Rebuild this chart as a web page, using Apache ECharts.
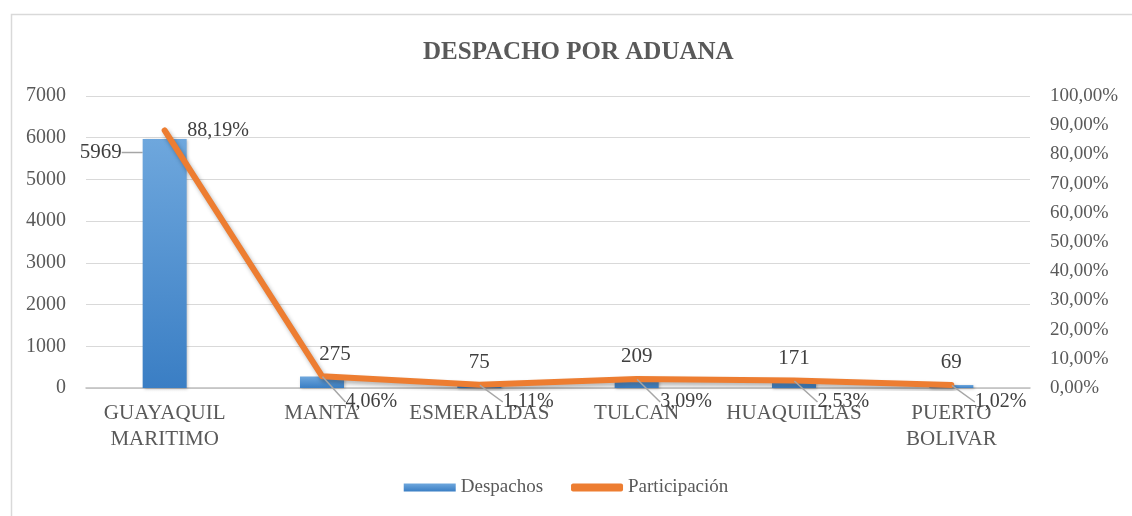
<!DOCTYPE html>
<html style="height: 100%">
<head>
    <meta charset="utf-8">
</head>
<body style="height: 100%; margin: 0; background: #fff">
    <div id="container" style="width: 1132px; height: 516px"></div>
    <script src="https://cdn.jsdelivr.net/npm/echarts@6/dist/echarts.min.js"></script>
    <script type="text/javascript">
        var aduanas = ['GUAYAQUIL\nMARITIMO', 'MANTA', 'ESMERALDAS', 'TULCAN', 'HUAQUILLAS', 'PUERTO\nBOLIVAR'];
        var despachos = [5969, 275, 75, 209, 171, 69];
        var participacion = [88.19, 4.06, 1.11, 3.09, 2.53, 1.02];

        var dom = document.getElementById('container');
        var myChart = echarts.init(dom);
        var fontFam = 'Liberation Serif, Times New Roman, DejaVu Serif, serif';
        var txtColor = '#595959';

        function pct(v) {
            return v.toFixed(2).replace('.', ',') + '%';
        }

        var option = {
            backgroundColor: '#fff',
            textStyle: { fontFamily: fontFam },
            graphic: [{
                type: 'rect',
                left: 9,
                top: 12,
                shape: { width: 1200, height: 600 },
                style: { fill: 'none', stroke: '#d9d9d9', lineWidth: 1.5 },
                silent: true
            }],
            title: {
                text: 'DESPACHO POR ADUANA',
                left: 418,
                top: 35,
                textStyle: {
                    fontFamily: fontFam,
                    fontSize: 25,
                    fontWeight: 'bold',
                    color: txtColor
                }
            },
            legend: {
                bottom: 14,
                left: 'center',
                itemWidth: 52,
                itemHeight: 8,
                itemGap: 28,
                textStyle: { fontFamily: fontFam, fontSize: 19, color: txtColor },
                data: [
                    { name: 'Despachos', icon: 'rect' },
                    { name: 'Participación', icon: 'roundRect' }
                ]
            },
            grid: {
                left: 86,
                right: 102,
                top: 96,
                bottom: 128
            },
            xAxis: {
                type: 'category',
                data: aduanas,
                axisTick: { show: false },
                axisLine: { lineStyle: { color: '#bfbfbf', width: 1.5 } },
                axisLabel: {
                    interval: 0,
                    color: txtColor,
                    fontFamily: fontFam,
                    fontSize: 21,
                    lineHeight: 26,
                    margin: 12
                }
            },
            yAxis: [{
                type: 'value',
                min: 0,
                max: 7000,
                interval: 1000,
                axisLabel: {
                    color: txtColor,
                    fontFamily: fontFam,
                    fontSize: 20,
                    margin: 20,
                    formatter: function (v) { return String(v); }
                },
                splitLine: { lineStyle: { color: '#d9d9d9', width: 1.2 } }
            }, {
                type: 'value',
                min: 0,
                max: 100,
                interval: 10,
                axisLabel: {
                    color: txtColor,
                    fontFamily: fontFam,
                    fontSize: 19,
                    margin: 20,
                    formatter: function (v) { return pct(v); }
                },
                splitLine: { show: false }
            }],
            series: [{
                name: 'Despachos',
                type: 'bar',
                barWidth: 44,
                data: despachos.map(function (v, i) {
                    return { value: v, labelLine: { show: i === 0 } };
                }),
                itemStyle: {
                    color: new echarts.graphic.LinearGradient(0, 0, 0, 1, [
                        { offset: 0, color: '#6ea7dd' },
                        { offset: 1, color: '#3a7ec4' }
                    ]),
                    shadowColor: 'rgba(0,0,0,0.25)',
                    shadowBlur: 3,
                    shadowOffsetX: 1,
                    shadowOffsetY: 1
                },
                label: {
                    show: true,
                    position: 'top',
                    distance: 12,
                    color: '#404040',
                    fontFamily: fontFam,
                    fontSize: 21
                },
                labelLine: {
                    show: false,
                    lineStyle: { color: '#a6a6a6', width: 1.5 }
                },
                labelLayout: function (p) {
                    if (p.dataIndex === 0) {
                        return { dx: -64, dy: 36 };
                    }
                    if (p.dataIndex === 1) {
                        return { dx: 13 };
                    }
                    return {};
                }
            }, {
                name: 'Participación',
                type: 'line',
                yAxisIndex: 1,
                data: participacion.map(function (v, i) {
                    return { value: v, labelLine: { show: i !== 0 } };
                }),
                symbol: 'circle',
                symbolSize: 1,
                showSymbol: true,
                z: 5,
                lineStyle: {
                    color: '#ed7d31',
                    width: 6,
                    cap: 'round',
                    join: 'round',
                    shadowColor: 'rgba(0,0,0,0.3)',
                    shadowBlur: 4,
                    shadowOffsetX: 2,
                    shadowOffsetY: 3
                },
                itemStyle: { color: '#ed7d31' },
                label: {
                    show: true,
                    position: 'right',
                    distance: 22,
                    color: '#404040',
                    fontFamily: fontFam,
                    fontSize: 20,
                    formatter: function (p) { return pct(p.value); }
                },
                labelLine: {
                    show: true,
                    lineStyle: { color: '#a6a6a6', width: 1.5 }
                },
                labelLayout: function (p) {
                    if (p.dataIndex === 0) {
                        return {};
                    }
                    // park the small labels just under the category axis
                    var base = myChart.convertToPixel({ yAxisIndex: 1 }, 0);
                    var cy = p.rect.y + p.rect.height / 2;
                    return { dx: 1, dy: base + 14 - cy };
                }
            }]
        };

        myChart.setOption(option, true);
    </script>
</body>
</html>
